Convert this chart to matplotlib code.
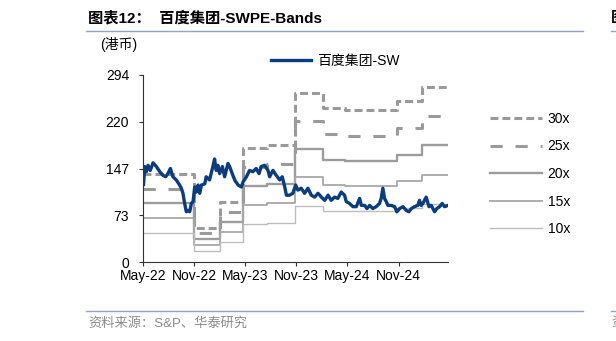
import matplotlib
matplotlib.use("Agg")
import matplotlib.pyplot as plt
import matplotlib.dates as mdates
from matplotlib.lines import Line2D
import pandas as pd

plt.rcParams['font.family'] = ['Liberation Sans', 'Noto Sans CJK SC']
plt.rcParams['axes.unicode_minus'] = False

# price of 百度集团-SW (HKD)
price_dates = [
    '2022-05-03', '2022-05-07', '2022-05-13', '2022-05-19', '2022-05-27', '2022-06-06',
    '2022-06-18', '2022-06-30', '2022-07-12', '2022-07-21', '2022-07-29', '2022-08-07',
    '2022-08-16', '2022-08-28', '2022-09-09', '2022-09-15', '2022-09-21', '2022-09-27',
    '2022-10-03', '2022-10-09', '2022-10-15', '2022-10-21', '2022-10-27', '2022-11-02',
    '2022-11-08', '2022-11-14', '2022-11-20', '2022-11-26', '2022-12-08', '2022-12-13',
    '2022-12-25', '2023-01-06', '2023-01-12', '2023-01-18', '2023-01-24', '2023-01-30',
    '2023-02-09', '2023-02-17', '2023-03-01', '2023-03-07', '2023-03-16', '2023-03-25',
    '2023-04-06', '2023-04-18', '2023-04-24', '2023-05-06', '2023-05-17', '2023-05-29',
    '2023-06-10', '2023-06-20', '2023-06-28', '2023-07-10', '2023-07-22', '2023-07-28',
    '2023-08-09', '2023-08-21', '2023-09-02', '2023-09-11', '2023-09-20', '2023-09-26',
    '2023-10-07', '2023-10-19', '2023-10-29', '2023-11-06', '2023-11-18', '2023-11-30',
    '2023-12-12', '2023-12-24', '2024-01-05', '2024-01-17', '2024-01-29', '2024-02-10',
    '2024-02-22', '2024-03-04', '2024-03-16', '2024-03-28', '2024-04-09', '2024-04-21',
    '2024-04-27', '2024-05-09', '2024-05-21', '2024-06-02', '2024-06-14', '2024-06-20',
    '2024-07-02', '2024-07-10', '2024-07-20', '2024-07-31', '2024-08-12', '2024-08-24',
    '2024-08-30', '2024-09-05', '2024-09-11', '2024-09-17', '2024-09-23', '2024-10-05',
    '2024-10-17', '2024-10-25', '2024-11-04', '2024-11-16', '2024-11-28', '2024-12-07',
    '2024-12-16', '2024-12-27', '2025-01-08', '2025-01-14', '2025-01-20', '2025-01-26',
    '2025-02-07', '2025-02-17', '2025-02-25', '2025-03-09', '2025-03-17', '2025-03-27',
    '2025-04-05', '2025-04-14', '2025-04-26',
]
price = [
    122, 150, 142, 152, 144, 156,
    150, 142, 136, 134, 139, 147,
    134, 129, 121, 116, 108, 92,
    79, 81, 79, 92, 95, 118,
    110, 121, 108, 121, 123, 134,
    129, 150, 162, 144, 152, 139,
    150, 134, 155, 150, 139, 129,
    121, 118, 126, 134, 144, 142,
    147, 139, 150, 152, 144, 134,
    144, 136, 129, 134, 118, 105,
    105, 108, 121, 113, 116, 108,
    116, 105, 102, 108, 102, 97,
    105, 97, 102, 100, 110, 105,
    95, 92, 87, 87, 100, 89,
    89, 84, 89, 84, 87, 92,
    100, 116, 100, 95, 89, 89,
    87, 79, 84, 87, 81, 79,
    84, 87, 89, 97, 89, 92,
    102, 87, 89, 79, 84, 87,
    92, 87, 89,
]

# PE band: EPS used for each period (step changes)
eps_dates = ['2022-05-01', '2022-10-30', '2023-01-31', '2023-04-23', '2023-07-18',
             '2023-10-27', '2024-02-04', '2024-04-22', '2024-10-25', '2025-01-22',
             '2025-04-26']
eps = [4.6, 1.8, 3.15, 5.95, 6.15, 8.87, 8.05, 7.95, 8.44, 9.17, 9.17]

multiples = [30, 25, 20, 15, 10]
band_labels = ['30x', '25x', '20x', '15x', '10x']
band_colors = ['#9a9a9a', '#9a9a9a', '#9c9c9c', '#a8a8a8', '#bdbdbd']
band_widths = [2.2, 2.2, 1.7, 1.3, 1.0]
band_dashes = [(2.6, 1.3), (4.0, 4.2), None, None, None]

y_ticks = [0, 73.5, 147, 220.5, 294]
y_labels = ['0', '73', '147', '220', '294']
x_ticks = ['2022-05-01', '2022-11-01', '2023-05-01', '2023-11-01', '2024-05-01', '2024-11-01']

fig = plt.figure(figsize=(6.16, 3.41), dpi=100)
ax = fig.add_axes([143 / 616, 79 / 341, 305 / 616, 187 / 341])

d_eps = pd.to_datetime(eps_dates)
band_handles = []
for m, lab, c, lw, ds in zip(multiples, band_labels, band_colors, band_widths, band_dashes):
    vals = [m * e for e in eps]
    ln, = ax.plot(d_eps, vals, drawstyle='steps-post', color=c, lw=lw, label=lab, zorder=2)
    if ds is not None:
        ln.set_dashes(ds)
    band_handles.append(ln)

pl, = ax.plot(pd.to_datetime(price_dates), price, color='#0b3c80', lw=2.4,
              label='百度集团-SW', zorder=3)

ax.set_ylim(0, 294)
ax.set_xlim(pd.Timestamp('2022-05-01'), pd.Timestamp('2025-04-26'))
ax.set_yticks(y_ticks)
ax.set_yticklabels(y_labels)
ax.set_xticks(pd.to_datetime(x_ticks))
ax.xaxis.set_major_formatter(mdates.DateFormatter('%b-%y'))
for s in ['top', 'right']:
    ax.spines[s].set_visible(False)
for s in ['left', 'bottom']:
    ax.spines[s].set_linewidth(0.8)
    ax.spines[s].set_color('#333333')
ax.tick_params(axis='y', length=3, pad=7, labelsize=10, width=0.8, color='#333333')
ax.tick_params(axis='x', length=3, pad=2, labelsize=10, width=0.8, color='#333333')

# legends
fig.legend(handles=[pl], loc='center left', bbox_to_anchor=(271 / 616, (341 - 61) / 341),
           frameon=False, fontsize=10, handlelength=2.9, handletextpad=0.4,
           borderpad=0, borderaxespad=0)
fig.legend(handles=band_handles, loc='center left',
           bbox_to_anchor=(490 / 616, (341 - 174) / 341), frameon=False, fontsize=10,
           handlelength=3.75, handletextpad=0.4, labelspacing=0.98,
           borderpad=0, borderaxespad=0)

# title, unit, source
fig.text(88 / 616, (341 - 18) / 341, '图表12：  百度集团-SWPE-Bands', fontsize=11,
         fontweight='bold', va='center', ha='left')
fig.text(100 / 616, (341 - 45) / 341, '(港币)', fontsize=10, va='center', ha='left')
fig.text(88 / 616, (341 - 323) / 341, '资料来源：S&P、华泰研究', fontsize=9.5,
         color='#8c8c8c', va='center', ha='left')
# edge of the next chart on the page
fig.text(611 / 616, (341 - 18) / 341, '图', fontsize=11, fontweight='bold',
         va='center', ha='left')
fig.text(611 / 616, (341 - 323) / 341, '资', fontsize=9.5, color='#8c8c8c',
         va='center', ha='left')
for x0, x1 in [(86, 583), (611, 616)]:
    fig.add_artist(Line2D([x0 / 616, x1 / 616], [(341 - 31) / 341] * 2,
                          color='#8fa6c4', lw=1.0))
    fig.add_artist(Line2D([x0 / 616, x1 / 616], [(341 - 311) / 341] * 2,
                          color='#8fa6c4', lw=1.0))

fig.savefig('out.png', dpi=100)
